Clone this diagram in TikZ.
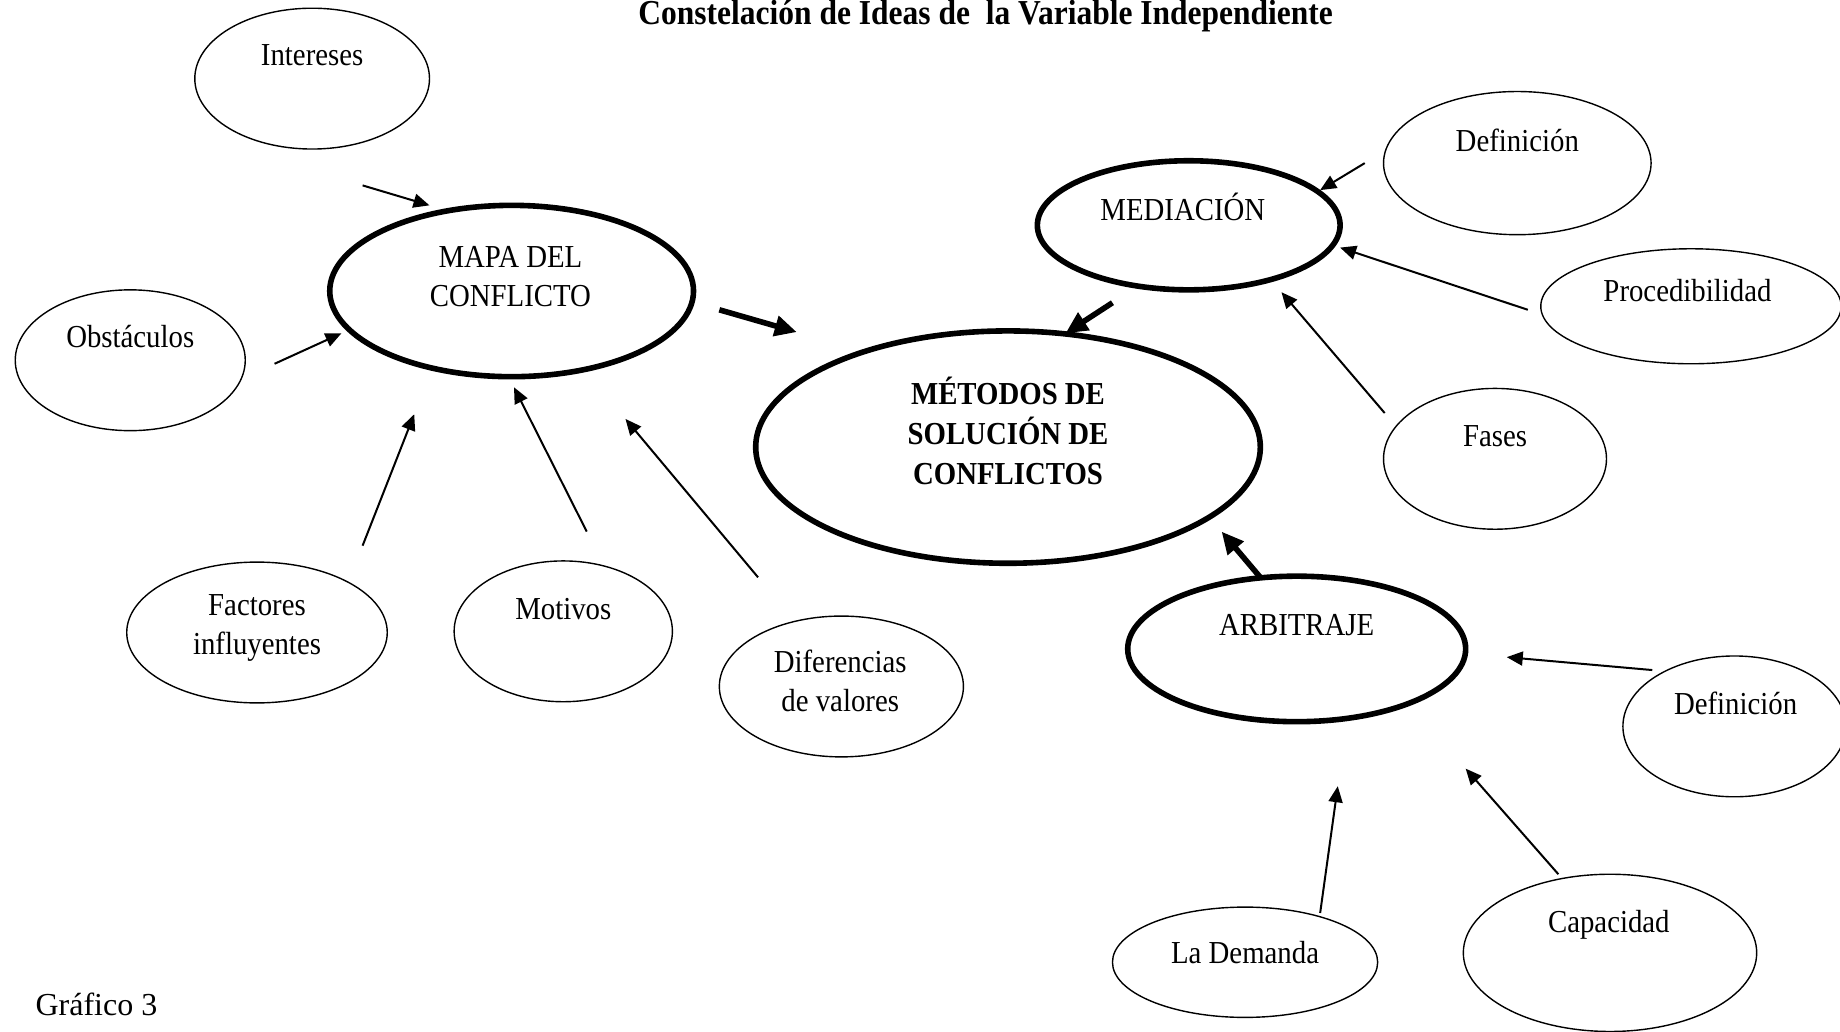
\documentclass[tikz,border=0pt]{standalone}
\usepackage{fontspec}
\setmainfont{Liberation Serif}[FakeStretch=0.9]
\newfontfamily\plainserif{Liberation Serif}
\usetikzlibrary{shapes.geometric,arrows.meta}
\begin{document}
\begin{tikzpicture}[x=0.58675pt,y=-0.58675pt,
  oval/.style n args={2}{ellipse,draw,line width=0.7pt,inner sep=0pt,outer sep=0pt,
     minimum width=#1*1.1735pt,minimum height=#2*1.1735pt},
  boval/.style={line width=2.8pt},
  txt/.style={font=\fontsize{16}{19.5}\selectfont,align=center,inner sep=0pt},
  btxt/.style={font=\bfseries\fontsize{16}{20}\selectfont,align=center,inner sep=0pt},
  arr/.style={-{Triangle[length=8pt,width=7pt]},line width=1pt},
  barr/.style={-{Triangle[length=11pt,width=10pt]},line width=2.8pt}]
\useasboundingbox (0,0) rectangle (1568,879);

% title and caption
\node[font=\bfseries\fontsize{17.5}{20}\selectfont,inner sep=0pt,anchor=base] (title) at (840,21)
  {Constelación de Ideas de \ la Variable Independiente};
\node[font=\plainserif\fontsize{16}{19.5}\selectfont,inner sep=0pt,anchor=west] (graf) at (30,856) {Gráfico 3};

% ovals
\node[oval={100}{60}] (int) at (266,67) {};
\node[oval={155}{73},boval] (mapa) at (436,248) {};
\node[oval={98}{60}] (obs) at (111,307) {};
\node[oval={111}{60}] (fac) at (219,539) {};
\node[oval={93}{60}] (mot) at (480,538) {};
\node[oval={104}{60}] (dif) at (717,585) {};
\node[oval={215}{99},boval] (met) at (859,381) {};
\node[oval={129}{55},boval] (med) at (1013,192) {};
\node[oval={114}{61}] (def1) at (1293,139) {};
\node[oval={128}{49}] (proc) at (1441,261) {};
\node[oval={95}{60}] (fas) at (1274,391) {};
\node[oval={144}{62},boval] (arb) at (1105,553) {};
\node[oval={95}{60}] (def2) at (1478,619) {};
\node[oval={125}{67}] (cap) at (1372,812) {};
\node[oval={113}{47}] (dem) at (1061,820) {};

% texts
\node[txt] (intT) at (266,47) {Intereses};
\node[txt] (mapaT) at (435,236) {MAPA DEL\\CONFLICTO};
\node[txt] (obsT) at (111,287) {Obstáculos};
\node[txt] (facT) at (219,535) {Factores\\influyentes};
\node[txt] (motT) at (480,519) {Motivos};
\node[txt] (difT) at (716,580) {Diferencias\\de valores};
\node[btxt] (metT) at (859,367) {MÉTODOS DE\\SOLUCIÓN DE\\CONFLICTOS};
\node[txt] (medT) at (1008,176) {MEDIACIÓN};
\node[txt] (def1T) at (1293,120) {Definición};
\node[txt] (procT) at (1438,248) {Procedibilidad};
\node[txt] (fasT) at (1274,372) {Fases};
\node[txt] (arbT) at (1105,533) {ARBITRAJE};
\node[txt] (def2T) at (1479,599) {Definición};
\node[txt] (capT) at (1371,788) {Capacidad};
\node[txt] (demT) at (1061,812) {La Demanda};

% arrow end points
\coordinate (a1s) at (309,158);  \coordinate (a1e) at (366,175);
\coordinate (a2s) at (234,310);  \coordinate (a2e) at (291,284);
\coordinate (a3s) at (309,465);  \coordinate (a3e) at (353,353);
\coordinate (a4s) at (500,453);  \coordinate (a4e) at (438,330);
\coordinate (a5s) at (646,492);  \coordinate (a5e) at (533,357);
\coordinate (b1s) at (613,264);  \coordinate (b1e) at (679,283);
\coordinate (b2s) at (948,258);  \coordinate (b2e) at (908,284);
\coordinate (a6s) at (1163,139); \coordinate (a6e) at (1125,162);
\coordinate (a7s) at (1302,264); \coordinate (a7e) at (1142,211);
\coordinate (a8s) at (1180,352); \coordinate (a8e) at (1092,249);
\coordinate (b3s) at (1074,492); \coordinate (b3e) at (1041,453);
\coordinate (a9s) at (1408,571); \coordinate (a9e) at (1284,560);
\coordinate (a10s) at (1328,745); \coordinate (a10e) at (1249,655);
\coordinate (a11s) at (1125,778); \coordinate (a11e) at (1140,670);

\draw[arr] (a1s) -- (a1e);
\draw[arr] (a2s) -- (a2e);
\draw[arr] (a3s) -- (a3e);
\draw[arr] (a4s) -- (a4e);
\draw[arr] (a5s) -- (a5e);
\draw[barr] (b1s) -- (b1e);
\draw[barr] (b2s) -- (b2e);
\draw[arr] (a6s) -- (a6e);
\draw[arr] (a7s) -- (a7e);
\draw[arr] (a8s) -- (a8e);
\draw[barr] (b3s) -- (b3e);
\draw[arr] (a9s) -- (a9e);
\draw[arr] (a10s) -- (a10e);
\draw[arr] (a11s) -- (a11e);
\end{tikzpicture}
\end{document}
